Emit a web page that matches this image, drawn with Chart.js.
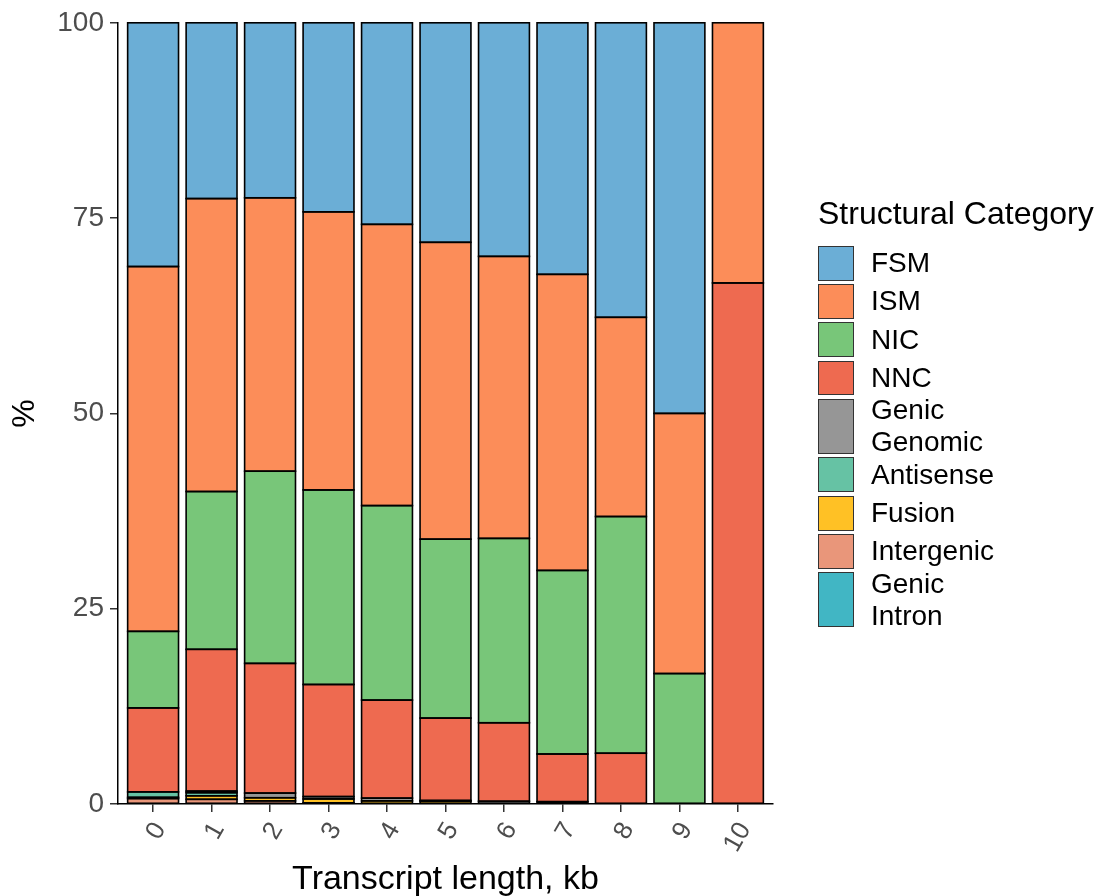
<!DOCTYPE html>
<html>
<head>
<meta charset="utf-8">
<script src="https://cdn.jsdelivr.net/npm/chart.js@4"></script>
<style>
  body { margin: 0; background: #fff; font-family: 'Liberation Sans', Arial, sans-serif; }
  #wrap { position: relative; width: 1098px; height: 896px; }
  #legend { position: absolute; left: 818px; top: 193px; color: #000; }
  #legend .title { font-size: 32px; line-height: 40px; height: 51px; white-space: nowrap; }
  #legend .item { display: flex; align-items: center; }
  #legend .box { width: 34px; border: 1.5px solid #333; flex: none; }
  #legend .lbl { font-size: 28px; line-height: 32px; margin-left: 17px; white-space: nowrap; }
</style>
</head>
<body>
<div id="wrap">
  <canvas id="myChart" width="1098" height="896"></canvas>
  <div id="legend"></div>
</div>
<script>
// transcript length bins (kb)
var lengths = ['0', '1', '2', '3', '4', '5', '6', '7', '8', '9', '10'];

// % of transcripts per structural category in each bin
var fsm          = [31.2, 22.5, 22.4, 24.2, 25.8, 28.1, 29.9, 32.2, 37.7, 50.0, 0];
var ism          = [46.7, 37.5, 35.0, 35.6, 36.0, 38.0, 36.1, 37.9, 25.5, 33.3, 33.3];
var nic          = [9.8, 20.2, 24.6, 24.9, 24.9, 22.9, 23.6, 23.5, 30.3, 16.7, 0];
var nnc          = [10.75, 18.15, 16.6, 14.35, 12.55, 10.55, 10.05, 6.1, 6.5, 0, 66.7];
var genicGenomic = [0, 0.2, 0.6, 0.3, 0.35, 0.1, 0.35, 0.3, 0, 0, 0];
var antisense    = [0.7, 0.4, 0, 0, 0, 0, 0, 0, 0, 0, 0];
var fusion       = [0.15, 0.45, 0.4, 0.5, 0.4, 0.35, 0, 0, 0, 0, 0];
var intergenic   = [0.7, 0.6, 0.4, 0.15, 0, 0, 0, 0, 0, 0, 0];
var genicIntron  = [0, 0, 0, 0, 0, 0, 0, 0, 0, 0, 0];

var yTicks = [0, 25, 50, 75, 100];

// legend order (top of stack first)
var cats = [
  { name: ['FSM'], data: fsm, color: '#6BAED6' },
  { name: ['ISM'], data: ism, color: '#FC8D59' },
  { name: ['NIC'], data: nic, color: '#78C679' },
  { name: ['NNC'], data: nnc, color: '#EE6A50' },
  { name: ['Genic', 'Genomic'], data: genicGenomic, color: '#969696' },
  { name: ['Antisense'], data: antisense, color: '#66C2A4' },
  { name: ['Fusion'], data: fusion, color: '#FFC125' },
  { name: ['Intergenic'], data: intergenic, color: '#E9967A' },
  { name: ['Genic', 'Intron'], data: genicIntron, color: '#41B6C4' }
];

// chart.js stacks the first dataset at the bottom, so reverse
var datasets = cats.slice().reverse().map(c => ({
  label: c.name.join(' '),
  data: c.data.map((v, i) => ({ x: i, y: v })),
  backgroundColor: c.color,
  borderWidth: 0,
  inflateAmount: 0,
  barPercentage: 0.87,
  categoryPercentage: 1
}));

// outline each segment centred on its edges (like ggplot's colour="black")
var outlines = {
  id: 'outlines',
  afterDatasetsDraw(chart) {
    var ctx = chart.ctx;
    ctx.save();
    ctx.strokeStyle = '#000';
    ctx.lineWidth = 1.6;
    chart.data.datasets.forEach((ds, di) => {
      chart.getDatasetMeta(di).data.forEach(el => {
        var h = Math.abs(el.base - el.y);
        if (h < 0.01) return;
        ctx.strokeRect(el.x - el.width / 2, Math.min(el.y, el.base), el.width, h);
      });
    });
    ctx.restore();
  }
};

Chart.defaults.font.family = "'Liberation Sans', Arial, sans-serif";

new Chart(document.getElementById('myChart'), {
  type: 'bar',
  data: { datasets: datasets },
  plugins: [outlines],
  options: {
    responsive: false,
    animation: false,
    layout: { padding: { left: 0, top: 22, right: 325, bottom: 0 } },
    plugins: { legend: { display: false }, tooltip: { enabled: false } },
    scales: {
      x: {
        type: 'linear',
        stacked: true,
        offset: false,
        min: -0.6,
        max: 10.6,
        afterBuildTicks: s => { s.ticks = lengths.map((l, i) => ({ value: i })); },
        afterFit: s => { s.height = 92; },
        ticks: {
          callback: (v) => lengths[v],
          minRotation: 60,
          maxRotation: 60,
          autoSkip: false,
          labelOffset: 7,
          color: '#4D4D4D',
          font: { size: 26 },
          padding: 5
        },
        grid: { display: true, offset: false, drawOnChartArea: false, drawTicks: true, tickLength: 8, color: '#333', lineWidth: 1.5 },
        border: { display: true, color: '#000', width: 1.5 },
        title: { display: true, text: 'Transcript length, kb', color: '#000', font: { size: 34 }, padding: { top: 0, bottom: -4 } }
      },
      y: {
        stacked: true,
        min: 0,
        max: 100,
        afterBuildTicks: s => { s.ticks = yTicks.map(v => ({ value: v })); },
        afterFit: s => { s.width = 118; },
        ticks: { color: '#4D4D4D', font: { size: 28 }, padding: 6 },
        grid: { display: true, drawOnChartArea: false, drawTicks: true, tickLength: 8, color: '#333', lineWidth: 1.5 },
        border: { display: true, color: '#000', width: 1.5 },
        title: { display: true, text: '%', color: '#000', font: { size: 32 }, padding: { top: 6, bottom: 0 } }
      }
    }
  }
});

// legend as html
var leg = document.getElementById('legend');
var html = '<div class="title">Structural Category</div>';
cats.forEach(c => {
  var h = c.name.length > 1 ? 58.5 : 38.3;
  html += '<div class="item" style="height:' + h + 'px">' +
    '<div class="box" style="height:' + (h - 5.5) + 'px;background:' + c.color + '"></div>' +
    '<div class="lbl">' + c.name.join('<br>') + '</div></div>';
});
leg.innerHTML = html;
</script>
</body>
</html>
